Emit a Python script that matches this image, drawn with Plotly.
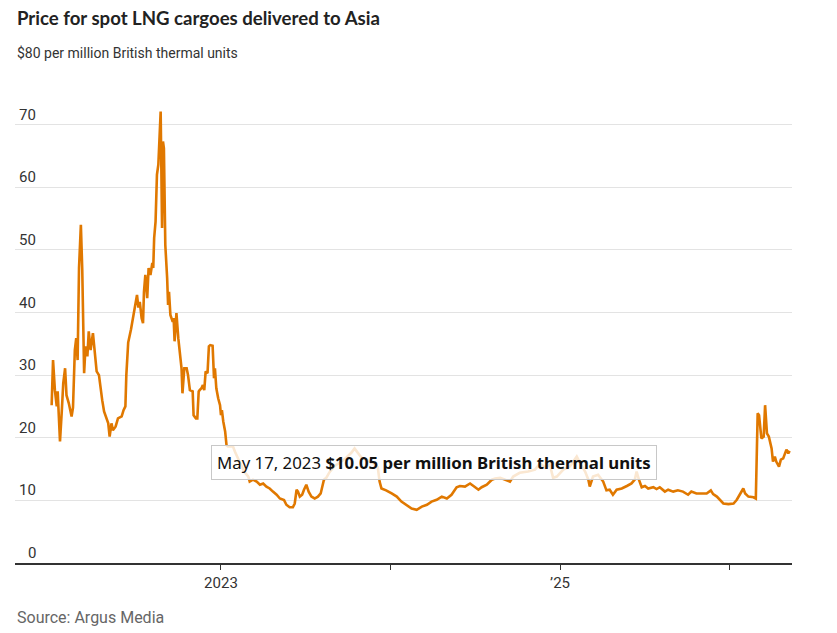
import plotly.graph_objects as go

# ---- data ----
dates = [
    "2022-01-01", "2022-01-04", "2022-01-08", "2022-01-12", "2022-01-14", "2022-01-19", "2022-01-23", "2022-01-26",
    "2022-01-30", "2022-02-02", "2022-02-07", "2022-02-13", "2022-02-16", "2022-02-20", "2022-02-23", "2022-02-26",
    "2022-03-01", "2022-03-05", "2022-03-08", "2022-03-11", "2022-03-12", "2022-03-15", "2022-03-19", "2022-03-22",
    "2022-03-26", "2022-03-31", "2022-04-04", "2022-04-08", "2022-04-13", "2022-04-17", "2022-04-20", "2022-04-24",
    "2022-04-29", "2022-05-03", "2022-05-06", "2022-05-10", "2022-05-13", "2022-05-19", "2022-05-24", "2022-06-01",
    "2022-06-05", "2022-06-09", "2022-06-11", "2022-06-15", "2022-06-21", "2022-06-27", "2022-07-01", "2022-07-04",
    "2022-07-07", "2022-07-10", "2022-07-14", "2022-07-17", "2022-07-19", "2022-07-22", "2022-07-26", "2022-07-29",
    "2022-08-02", "2022-08-06", "2022-08-08", "2022-08-10", "2022-08-13", "2022-08-16", "2022-08-19", "2022-08-22",
    "2022-08-24", "2022-08-27", "2022-08-29", "2022-08-31", "2022-09-03", "2022-09-07", "2022-09-09", "2022-09-11",
    "2022-09-14", "2022-09-19", "2022-09-21", "2022-09-23", "2022-09-27", "2022-10-01", "2022-10-04", "2022-10-08",
    "2022-10-10", "2022-10-14", "2022-10-19", "2022-10-22", "2022-10-26", "2022-11-01", "2022-11-03", "2022-11-08",
    "2022-11-11", "2022-11-14", "2022-11-16", "2022-11-20", "2022-11-23", "2022-11-26", "2022-11-29", "2022-12-03",
    "2022-12-06", "2022-12-09", "2022-12-14", "2022-12-17", "2022-12-19", "2022-12-22", "2022-12-26", "2022-12-30",
    "2023-01-01", "2023-01-03", "2023-01-06", "2023-01-08", "2023-01-10", "2023-01-13", "2023-01-16", "2023-01-27",
    "2023-01-31", "2023-02-11", "2023-02-21", "2023-03-01", "2023-03-04", "2023-03-11", "2023-03-19", "2023-03-26",
    "2023-04-02", "2023-04-09", "2023-04-16", "2023-04-23", "2023-05-01", "2023-05-08", "2023-05-17", "2023-05-22",
    "2023-05-29", "2023-06-05", "2023-06-09", "2023-06-13", "2023-06-16", "2023-06-20", "2023-06-25", "2023-06-29",
    "2023-07-04", "2023-07-09", "2023-07-15", "2023-07-22", "2023-07-29", "2023-08-04", "2023-08-07", "2023-08-11",
    "2023-08-16", "2023-08-23", "2023-09-03", "2023-09-14", "2023-09-28", "2023-10-09", "2023-10-16", "2023-10-23",
    "2023-10-31", "2023-11-10", "2023-11-24", "2023-12-05", "2023-12-09", "2023-12-13", "2023-12-23", "2024-01-04",
    "2024-01-15", "2024-01-25", "2024-02-05", "2024-02-16", "2024-02-27", "2024-03-09", "2024-03-20", "2024-03-30",
    "2024-04-10", "2024-04-21", "2024-05-02", "2024-05-12", "2024-05-23", "2024-05-30", "2024-06-10", "2024-06-21",
    "2024-07-02", "2024-07-09", "2024-07-16", "2024-07-27", "2024-08-07", "2024-08-14", "2024-08-25", "2024-09-04",
    "2024-09-15", "2024-09-22", "2024-10-06", "2024-10-24", "2024-11-08", "2024-11-19", "2024-11-30", "2024-12-10",
    "2024-12-17", "2024-12-25", "2025-01-08", "2025-01-22", "2025-02-06", "2025-02-13", "2025-02-24", "2025-03-03",
    "2025-03-06", "2025-03-13", "2025-03-24", "2025-04-04", "2025-04-11", "2025-04-18", "2025-04-25", "2025-05-03",
    "2025-05-14", "2025-05-25", "2025-06-04", "2025-06-11", "2025-06-15", "2025-06-20", "2025-06-26", "2025-07-03",
    "2025-07-10", "2025-07-21", "2025-07-28", "2025-08-04", "2025-08-15", "2025-08-22", "2025-09-02", "2025-09-12",
    "2025-09-23", "2025-10-04", "2025-10-11", "2025-10-22", "2025-11-02", "2025-11-13", "2025-11-22", "2025-11-27",
    "2025-12-05", "2025-12-12", "2025-12-19", "2025-12-30", "2026-01-10", "2026-01-17", "2026-01-24", "2026-01-31",
    "2026-02-04", "2026-02-11", "2026-02-22", "2026-02-27", "2026-03-03", "2026-03-06", "2026-03-11", "2026-03-16",
    "2026-03-19", "2026-03-23", "2026-03-27", "2026-04-02", "2026-04-05", "2026-04-09", "2026-04-12", "2026-04-18",
    "2026-04-22", "2026-04-27", "2026-04-30", "2026-05-04", "2026-05-08", "2026-05-11",
]

prices = [
    25.2, 32.4, 27.6, 25.0, 27.4, 19.4, 24.4, 28.7,
    31.1, 26.8, 25.5, 23.4, 24.8, 34.0, 35.9, 32.4,
    47.1, 54.0, 46.8, 36.2, 30.3, 34.6, 33.0, 37.0,
    34.0, 36.7, 33.5, 30.6, 30.0, 27.4, 26.0, 24.2,
    23.1, 22.3, 20.2, 22.3, 21.2, 21.8, 23.1, 23.4,
    24.4, 25.0, 30.0, 35.2, 37.3, 40.2, 41.6, 42.8,
    40.8, 41.7, 39.1, 38.3, 43.3, 46.0, 42.3, 47.1,
    46.0, 47.9, 47.1, 51.9, 54.5, 62.0, 63.6, 67.8,
    72.1, 53.5, 67.3, 66.2, 50.8, 45.5, 41.2, 43.3,
    39.6, 38.5, 39.1, 35.4, 39.9, 35.9, 33.8, 31.1,
    27.1, 31.1, 31.1, 30.0, 27.6, 27.4, 23.6, 23.1,
    23.1, 27.4, 27.6, 27.9, 28.4, 27.6, 30.6, 30.3,
    34.6, 34.8, 34.7, 29.5, 31.1, 27.9, 26.3, 25.2,
    23.6, 24.4, 22.6, 21.8, 21.0, 18.8, 18.6, 18.6,
    17.8, 16.0, 14.5, 13.8, 13.0, 13.3, 13.0, 12.5,
    12.7, 12.2, 11.9, 11.4, 10.9, 10.3, 10.05, 9.3,
    8.9, 8.9, 9.5, 11.7, 11.4, 10.6, 10.9, 11.7,
    12.5, 11.4, 10.6, 10.3, 10.6, 11.1, 12.2, 13.3,
    13.6, 14.5, 15.5, 16.0, 16.8, 17.6, 18.3, 17.6,
    16.8, 16.5, 16.0, 15.3, 13.0, 11.9, 11.6, 11.1,
    10.6, 9.8, 9.3, 8.7, 8.5, 9.0, 9.3, 9.8,
    10.1, 10.6, 10.3, 10.9, 12.1, 12.3, 12.2, 12.7,
    12.1, 11.7, 12.1, 12.5, 13.3, 13.5, 13.6, 13.3,
    13.0, 13.8, 14.4, 14.6, 14.9, 15.9, 15.2, 15.7,
    13.6, 13.8, 14.9, 15.4, 17.0, 16.0, 14.6, 13.3,
    12.2, 13.8, 14.1, 13.0, 11.6, 11.7, 10.9, 11.7,
    11.9, 12.3, 12.7, 13.3, 14.6, 13.3, 12.1, 12.3,
    11.9, 12.1, 11.8, 12.1, 11.4, 11.7, 11.4, 11.6,
    11.4, 10.9, 11.4, 11.1, 11.1, 11.1, 11.6, 11.0,
    10.6, 10.1, 9.5, 9.4, 9.5, 10.1, 11.1, 11.9,
    11.1, 10.6, 10.5, 10.3, 23.9, 23.6, 19.9, 20.2,
    25.2, 20.7, 20.2, 18.3, 16.2, 17.0, 16.2, 15.4,
    16.5, 16.7, 17.3, 18.1, 17.5, 17.9,
]

y_tick_vals = [0, 10, 20, 30, 40, 50, 60, 70, 80]
y_tick_labels = ["0", "10", "20", "30", "40", "50", "60", "70", "$80 per million British thermal units"]
x_tick_vals = ["2023-01-01", "2024-01-01", "2025-01-01", "2026-01-01"]
x_tick_text = ["2023", "", "\u201925", ""]

title_text = "Price for spot LNG cargoes delivered to Asia"
source_text = "Source: Argus Media"
hover_date = "May 17, 2023"
hover_value = "$10.05 per million British thermal units"

NARROW = "Liberation Sans Narrow, Roboto, Arial Narrow, sans-serif"
LINE_COLOR = "#e07800"

fig = go.Figure()
fig.add_trace(go.Scatter(
    x=dates, y=prices, mode="lines",
    line=dict(color=LINE_COLOR, width=2.6),
    hoverinfo="skip", showlegend=False,
))

# the page body adds an 8px offset; margins are set so the plot lands where the reference has it
W, H = 837, 633
ML, MR, MT, MB = 7, 53, 54, 78
plot_w = W - ML - MR

annotations = []
for v, lab in zip(y_tick_vals, y_tick_labels):
    if lab.startswith("$"):
        annotations.append(dict(xref="paper", yref="y", x=0, y=v, text=lab, showarrow=False,
                                xanchor="left", yanchor="bottom", yshift=-1,
                                font=dict(family=NARROW, size=14, color="#333")))
    else:
        annotations.append(dict(xref="paper", yref="y", x=23 / plot_w, y=v, text=lab, showarrow=False,
                                xanchor="right", yanchor="bottom", yshift=-1,
                                font=dict(family=NARROW, size=15, color="#333")))

# title and source
annotations.append(dict(xref="paper", yref="paper", x=0, y=1, yshift=MT + 3, text="<b>" + title_text + "</b>",
                        showarrow=False, xanchor="left", yanchor="top",
                        font=dict(family="Lato, Roboto, sans-serif", size=18.6, color="#222")))
annotations.append(dict(xref="paper", yref="paper", x=0, y=0, yshift=-43, text=source_text,
                        showarrow=False, xanchor="left", yanchor="top",
                        font=dict(family=NARROW, size=16, color="#666")))

# hover tooltip box
annotations.append(dict(xref="paper", yref="y", x=(434.5 - 15) / plot_w, y=16,
                        text=hover_date + " <b>" + hover_value + "</b>",
                        showarrow=False, xanchor="center", yanchor="middle",
                        bgcolor="rgba(255,255,255,0.82)", bordercolor="#c8c8c8", borderwidth=1,
                        borderpad=5,
                        font=dict(family="Noto Sans, Open Sans, sans-serif", size=16.8, color="#111")))

fig.update_layout(
    width=W, height=H,
    margin=dict(l=ML, r=MR, t=MT, b=MB),
    paper_bgcolor="white", plot_bgcolor="white",
    showlegend=False,
    annotations=annotations,
    xaxis=dict(
        type="date",
        range=["2021-10-14", "2026-05-16"],
        tickvals=x_tick_vals, ticktext=x_tick_text,
        ticks="outside", ticklen=5, tickcolor="#333", tickwidth=1,
        showline=True, linecolor="#333", linewidth=1.5,
        showgrid=False, zeroline=False,
        tickfont=dict(family=NARROW, size=15, color="#333"),
        fixedrange=True,
    ),
    yaxis=dict(
        range=[0, 80],
        tickvals=y_tick_vals,
        showticklabels=False,
        showgrid=True, gridcolor="#e3e3e3", gridwidth=1,
        zeroline=False, showline=False, ticks="",
        fixedrange=True,
    ),
)

fig.write_html("out.html")
